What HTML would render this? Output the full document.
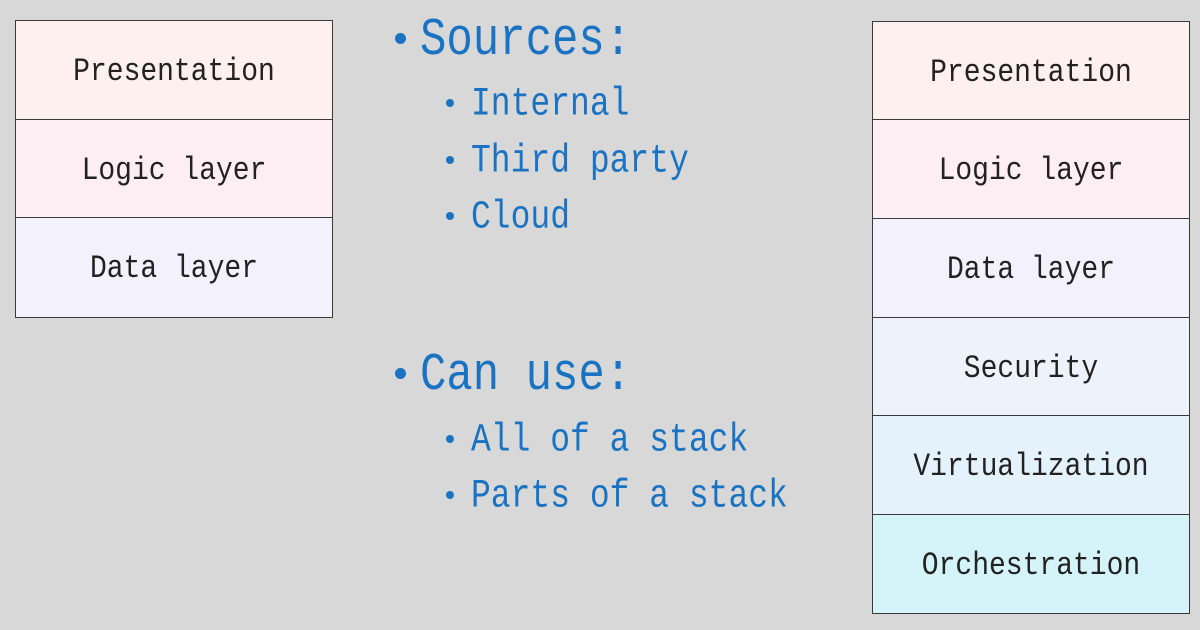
<!DOCTYPE html>
<html><head><style>
body{margin:0;width:1200px;height:630px;background:#d8d8d8;position:relative;overflow:hidden;font-family:"Liberation Mono","DejaVu Sans Mono",monospace;}
.b{position:absolute;box-sizing:border-box;border:1.5px solid #3a3a3a;display:flex;align-items:center;justify-content:center;font-size:28px;color:#222;width:318px;padding-top:4px;}
.b span{display:inline-block;transform:scaleY(1.15);}
.t{position:absolute;color:#1a73c2;white-space:nowrap;line-height:1;}
.t span{display:inline-block;transform:scaleY(1.2);}
.big{font-size:44px;}
.sm{font-size:33px;}
.dot{position:absolute;border-radius:50%;background:#1a73c2;}
</style></head><body>
<div class="b" style="left:15px;top:20px;height:101px;background:#fdf0ee"><span>Presentation</span></div>
<div class="b" style="left:15px;top:119px;height:100px;background:#fdeef3"><span>Logic layer</span></div>
<div class="b" style="left:15px;top:217px;height:101px;background:#f3f1fc"><span>Data layer</span></div>

<div class="b" style="left:872px;top:21px;height:100px;background:#fdf0ee"><span>Presentation</span></div>
<div class="b" style="left:872px;top:119px;height:101px;background:#fdeef3"><span>Logic layer</span></div>
<div class="b" style="left:872px;top:218px;height:101px;background:#f3f1fc"><span>Data layer</span></div>
<div class="b" style="left:872px;top:317px;height:100px;background:#eef2fb"><span>Security</span></div>
<div class="b" style="left:872px;top:415px;height:101px;background:#e4f2fc"><span>Virtualization</span></div>
<div class="b" style="left:872px;top:514px;height:100px;background:#d5f4fa"><span>Orchestration</span></div>

<div class="dot" style="left:395px;top:33px;width:11px;height:11px"></div>
<div class="t big" style="left:420px;top:19px"><span>Sources:</span></div>
<div class="dot" style="left:446px;top:99px;width:8px;height:8px"></div>
<div class="t sm" style="left:471px;top:88px"><span>Internal</span></div>
<div class="dot" style="left:446px;top:156px;width:8px;height:8px"></div>
<div class="t sm" style="left:471px;top:145px"><span>Third party</span></div>
<div class="dot" style="left:446px;top:212px;width:8px;height:8px"></div>
<div class="t sm" style="left:471px;top:201px"><span>Cloud</span></div>

<div class="dot" style="left:395px;top:368px;width:11px;height:11px"></div>
<div class="t big" style="left:420px;top:354px"><span>Can use:</span></div>
<div class="dot" style="left:446px;top:435px;width:8px;height:8px"></div>
<div class="t sm" style="left:471px;top:424px"><span>All of a stack</span></div>
<div class="dot" style="left:446px;top:491px;width:8px;height:8px"></div>
<div class="t sm" style="left:471px;top:480px"><span>Parts of a stack</span></div>
</body></html>
